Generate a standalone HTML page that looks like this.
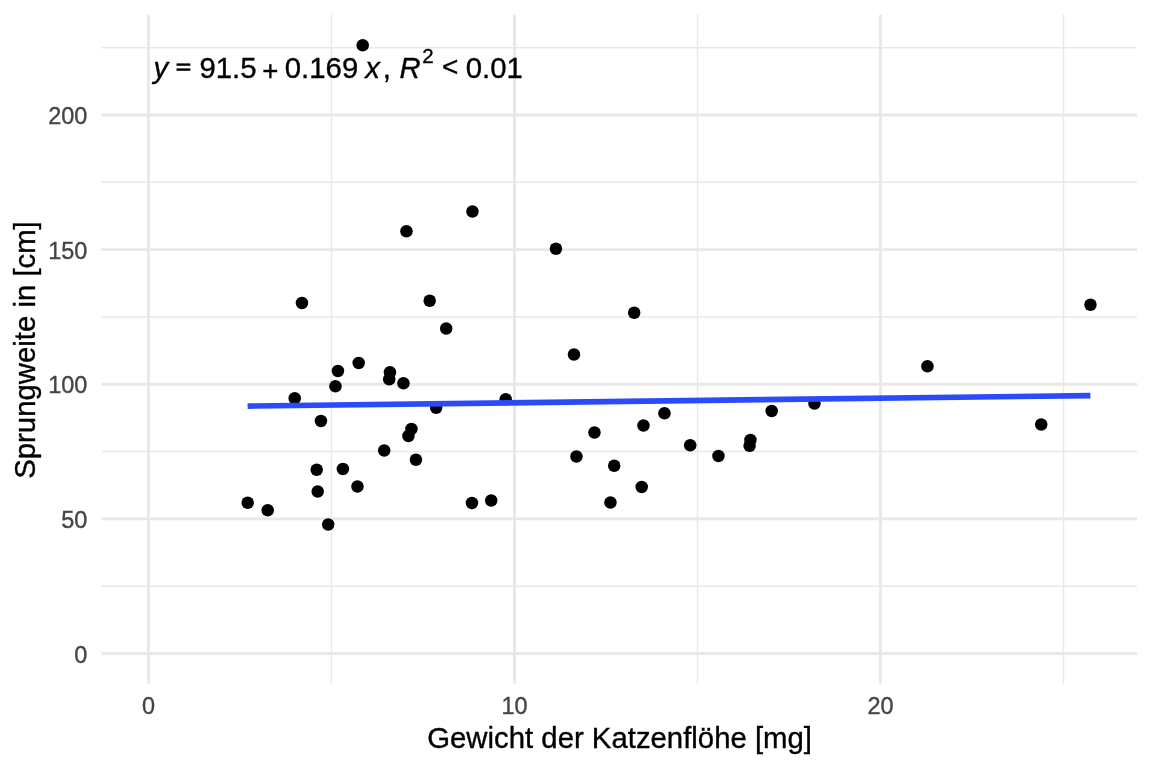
<!DOCTYPE html>
<html lang="de"><head><meta charset="utf-8"><title>Sprungweite</title>
<style>
html,body{margin:0;padding:0;background:#fff;}
body{width:1152px;height:768px;overflow:hidden;}
svg{display:block;font-family:"Liberation Sans",Arial,Helvetica,sans-serif;}
.mn{stroke:#E8E8E8;stroke-width:1.42;fill:none}
.mj{stroke:#E8E8E8;stroke-width:2.85;fill:none}
.tk{font-size:23.47px;fill:#444;stroke:#444;stroke-width:.35px}
.ti{font-size:29.33px;fill:#000;stroke:#000;stroke-width:.35px}
</style></head><body>
<svg width="1152" height="768" viewBox="0 0 1152 768">
<rect width="1152" height="768" fill="#fff"/>
<line class="mn" x1="101.6" x2="1137.0" y1="586.19" y2="586.19"/>
<line class="mn" x1="101.6" x2="1137.0" y1="451.56" y2="451.56"/>
<line class="mn" x1="101.6" x2="1137.0" y1="316.94" y2="316.94"/>
<line class="mn" x1="101.6" x2="1137.0" y1="182.31" y2="182.31"/>
<line class="mn" x1="101.6" x2="1137.0" y1="47.69" y2="47.69"/>
<line class="mn" y1="14.8" y2="683.75" x1="331.50" x2="331.50"/>
<line class="mn" y1="14.8" y2="683.75" x1="697.50" x2="697.50"/>
<line class="mn" y1="14.8" y2="683.75" x1="1063.50" x2="1063.50"/>
<line class="mj" x1="101.6" x2="1137.0" y1="653.50" y2="653.50"/>
<line class="mj" x1="101.6" x2="1137.0" y1="518.88" y2="518.88"/>
<line class="mj" x1="101.6" x2="1137.0" y1="384.25" y2="384.25"/>
<line class="mj" x1="101.6" x2="1137.0" y1="249.62" y2="249.62"/>
<line class="mj" x1="101.6" x2="1137.0" y1="115.00" y2="115.00"/>
<line class="mj" y1="14.8" y2="683.75" x1="148.50" x2="148.50"/>
<line class="mj" y1="14.8" y2="683.75" x1="514.50" x2="514.50"/>
<line class="mj" y1="14.8" y2="683.75" x1="880.50" x2="880.50"/>
<g fill="#000">
<circle cx="247.70" cy="502.75" r="6.25"/>
<circle cx="267.70" cy="510.25" r="6.25"/>
<circle cx="294.70" cy="398.25" r="6.25"/>
<circle cx="301.95" cy="303.00" r="6.25"/>
<circle cx="316.70" cy="469.75" r="6.25"/>
<circle cx="317.70" cy="491.50" r="6.25"/>
<circle cx="320.95" cy="421.00" r="6.25"/>
<circle cx="328.20" cy="524.50" r="6.25"/>
<circle cx="335.45" cy="386.25" r="6.25"/>
<circle cx="337.95" cy="371.00" r="6.25"/>
<circle cx="342.90" cy="469.00" r="6.25"/>
<circle cx="357.45" cy="486.50" r="6.25"/>
<circle cx="358.70" cy="363.00" r="6.25"/>
<circle cx="362.70" cy="45.25" r="6.25"/>
<circle cx="384.20" cy="450.50" r="6.25"/>
<circle cx="389.95" cy="372.25" r="6.25"/>
<circle cx="389.20" cy="379.25" r="6.25"/>
<circle cx="403.45" cy="383.25" r="6.25"/>
<circle cx="406.45" cy="231.25" r="6.25"/>
<circle cx="408.45" cy="436.00" r="6.25"/>
<circle cx="411.45" cy="429.00" r="6.25"/>
<circle cx="415.95" cy="459.75" r="6.25"/>
<circle cx="429.70" cy="300.75" r="6.25"/>
<circle cx="436.20" cy="407.75" r="6.25"/>
<circle cx="446.20" cy="328.50" r="6.25"/>
<circle cx="472.45" cy="211.50" r="6.25"/>
<circle cx="471.95" cy="503.00" r="6.25"/>
<circle cx="491.20" cy="500.50" r="6.25"/>
<circle cx="505.70" cy="399.25" r="6.25"/>
<circle cx="555.95" cy="248.75" r="6.25"/>
<circle cx="573.95" cy="354.50" r="6.25"/>
<circle cx="576.45" cy="456.50" r="6.25"/>
<circle cx="594.45" cy="432.50" r="6.25"/>
<circle cx="610.45" cy="502.50" r="6.25"/>
<circle cx="614.20" cy="465.75" r="6.25"/>
<circle cx="634.20" cy="312.75" r="6.25"/>
<circle cx="641.70" cy="487.00" r="6.25"/>
<circle cx="643.45" cy="425.50" r="6.25"/>
<circle cx="664.45" cy="413.25" r="6.25"/>
<circle cx="690.20" cy="445.25" r="6.25"/>
<circle cx="718.45" cy="456.00" r="6.25"/>
<circle cx="750.45" cy="440.00" r="6.25"/>
<circle cx="749.60" cy="445.75" r="6.25"/>
<circle cx="771.70" cy="411.00" r="6.25"/>
<circle cx="814.45" cy="403.50" r="6.25"/>
<circle cx="927.45" cy="366.25" r="6.25"/>
<circle cx="1041.20" cy="424.50" r="6.25"/>
<circle cx="1090.45" cy="304.75" r="6.25"/>
</g>
<line x1="247.6" y1="406.1" x2="1090.4" y2="395.6" stroke="#2B4BFA" stroke-width="5.69"/>
<g class="ti">
<text x="153.50" y="77.50" font-style="italic">y</text>
<text x="183.55" y="76.60" text-anchor="middle" stroke-width="1.2px" transform="translate(183.55,67.3) scale(0.9,0.72) translate(-183.55,-67.3)">=</text>
<text x="199.50" y="77.50">91.5</text>
<text x="262.20" y="79.50" font-size="27.6px">+</text>
<text x="284.80" y="77.50">0.169</text>
<text x="365.30" y="77.50" font-style="italic">x</text>
<text x="382.80" y="77.50">,</text>
<text x="399.50" y="77.50" font-style="italic">R</text>
<text x="422.20" y="62.50" font-size="20.53px">2</text>
<text x="442.10" y="76.10" font-size="28px">&lt;</text>
<text x="465.70" y="77.50">0.01</text>
</g>
<text class="tk" text-anchor="end" x="87.4" y="662.70">0</text>
<text class="tk" text-anchor="end" x="87.4" y="528.08">50</text>
<text class="tk" text-anchor="end" x="87.4" y="393.45">100</text>
<text class="tk" text-anchor="end" x="87.4" y="258.82">150</text>
<text class="tk" text-anchor="end" x="87.4" y="124.20">200</text>
<text class="tk" text-anchor="middle" x="148.50" y="714">0</text>
<text class="tk" text-anchor="middle" x="514.50" y="714">10</text>
<text class="tk" text-anchor="middle" x="880.50" y="714">20</text>
<text class="ti" text-anchor="middle" x="619.6" y="747.5">Gewicht der Katzenflöhe [mg]</text>
<text class="ti" text-anchor="middle" transform="translate(35.1,350) rotate(-90)">Sprungweite in [cm]</text>
</svg></body></html>
